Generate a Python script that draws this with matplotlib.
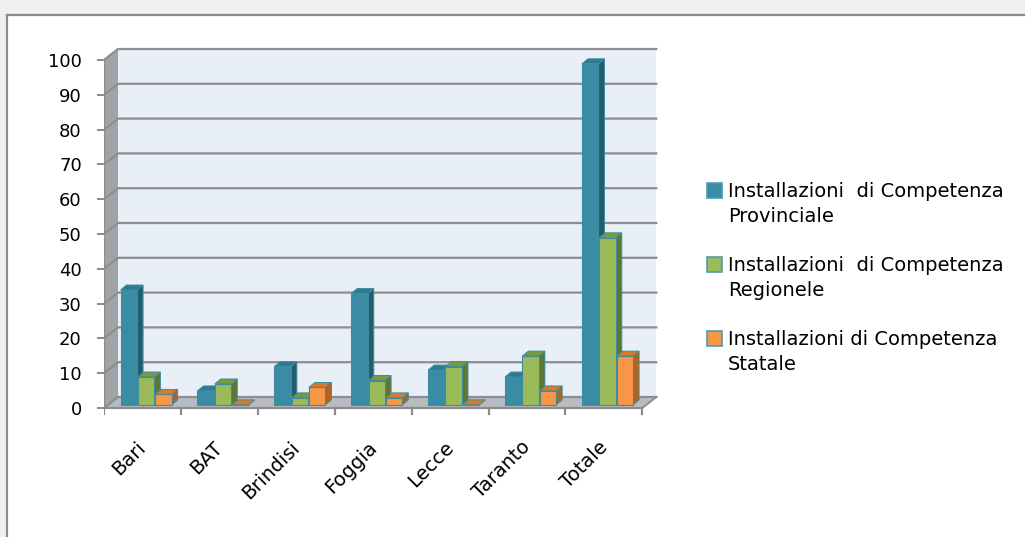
import matplotlib
matplotlib.use('Agg')
import matplotlib.pyplot as plt
from matplotlib.patches import Polygon, Rectangle

# data
categories = ['Bari', 'BAT', 'Brindisi', 'Foggia', 'Lecce', 'Taranto', 'Totale']
provinciale = [33, 4, 11, 32, 10, 8, 98]
regionale = [8, 6, 2, 7, 11, 14, 48]
statale = [3, 0, 5, 2, 0, 4, 14]
series_labels = ['Installazioni  di Competenza\nProvinciale',
                 'Installazioni  di Competenza\nRegionele',
                 'Installazioni di Competenza\nStatale']
yticks = list(range(0, 101, 10))

# face colours: front, side, top
styles = [('#3a8ca4', '#235d6d', '#2e7a8f'),
          ('#9bbb59', '#5e7534', '#7a9a3e'),
          ('#f79646', '#b5611f', '#dc7a2a')]
edge = '#3d8ca0'

plt.rcParams['font.family'] = ['DejaVu Sans']
W, H = 1025, 537
fig = plt.figure(figsize=(W / 100, H / 100), dpi=100)
fig.patch.set_facecolor('white')

# outer grey frame like the spreadsheet screenshot
fig.patches.append(Rectangle((0, 1 - 14 / H), 1, 14 / H, transform=fig.transFigure,
                             facecolor='#f0f0f0', edgecolor='none', zorder=0))
fig.patches.append(Rectangle((0, 0), 7 / W, 1, transform=fig.transFigure,
                             facecolor='#f0f0f0', edgecolor='none', zorder=0))
fig.lines.append(plt.Line2D([7 / W, 1], [1 - 15 / H, 1 - 15 / H], transform=fig.transFigure,
                            color='#8c8c8c', lw=1.6))
fig.lines.append(plt.Line2D([7 / W, 7 / W], [0, 1 - 15 / H], transform=fig.transFigure,
                            color='#8c8c8c', lw=1.6))

px_x = 76.9   # pixels per category
px_y = 3.48   # pixels per unit
ax = fig.add_axes([104 / W, 1 - 420 / H, (665 - 104) / W, (420 - 30) / H])
ax.set_xlim(0, (665 - 104) / px_x)
ax.set_ylim(-(420 - 408) / px_y, (408 - 30) / px_y)
ax.set_facecolor('none')
for s in ax.spines.values():
    s.set_visible(False)

n = len(categories)
ymax = yticks[-1]
dxw, dyw = 14 / px_x, 11 / px_y   # depth of walls

# walls
ax.add_patch(Rectangle((dxw, dyw), n, ymax, facecolor='#e8eff7', edgecolor='none', zorder=1))
ax.add_patch(Polygon([(0, 0), (dxw, dyw), (dxw, ymax + dyw), (0, ymax)],
                     facecolor='#a0a4a8', edgecolor='none', zorder=1))
ax.add_patch(Polygon([(0, 0), (n, 0), (n + dxw, dyw), (dxw, dyw)],
                     facecolor='#b8bcc0', edgecolor='none', zorder=1))
for v in yticks:
    ax.plot([0, dxw, n + dxw], [v, v + dyw, v + dyw], color='#8e8e8e', lw=1.6, zorder=2)
ax.plot([n, n + dxw], [0, dyw], color='#8e8e8e', lw=1.4, zorder=2)
ax.plot([0, 0], [0, ymax], color='#8c8c8c', lw=1.6, zorder=3)
ax.plot([0, n], [0, 0], color='#8c8c8c', lw=1.6, zorder=3)
for i in range(n + 1):
    ax.plot([i, i], [0, -6 / px_y], color='#8c8c8c', lw=1.6, zorder=3)

# 3d-looking bars
w, step, off = 0.215, 0.225, 0.215
ddx, ddy = 6 / px_x, 5 / px_y
y0 = 0.9
for k, vals in enumerate([provinciale, regionale, statale]):
    front, side, top = styles[k]
    xs = [i + off + k * step for i in range(n)]
    for x, v in zip(xs, vals):
        z = 4 + k
        ax.add_patch(Polygon([(x + w, y0), (x + w + ddx, y0 + ddy),
                              (x + w + ddx, y0 + v + ddy), (x + w, y0 + v)],
                             facecolor=side, edgecolor=edge, lw=0.7, zorder=z))
        ax.add_patch(Polygon([(x, y0 + v), (x + ddx, y0 + v + ddy),
                              (x + w + ddx, y0 + v + ddy), (x + w, y0 + v)],
                             facecolor=top, edgecolor=edge, lw=0.7, zorder=z))
    ax.bar(xs, vals, width=w, bottom=y0, align='edge', color=front,
           edgecolor=edge, linewidth=0.8, zorder=4 + k)

ax.set_xticks([])
ax.set_yticks(yticks)
ax.tick_params(axis='y', length=5, width=1.4, color='#8c8c8c', pad=11,
               labelsize=13, labelcolor='black')

for i, name in enumerate(categories):
    ax.text(i + 0.42, -8.5, name, rotation=45, ha='right', va='top',
            rotation_mode='anchor', fontsize=14)

# legend
for k, lab in enumerate(series_labels):
    yc = 190 + k * 74
    fig.patches.append(Rectangle((707 / W, 1 - (yc + 7.5) / H), 15 / W, 15 / H,
                                 transform=fig.transFigure, facecolor=styles[k][0],
                                 edgecolor='#4f9bb0', lw=1.2))
    fig.text(728 / W, 1 - (yc + 14) / H, lab, fontsize=14, va='center', ha='left',
             linespacing=1.42)

fig.savefig('out.png', dpi=100)
